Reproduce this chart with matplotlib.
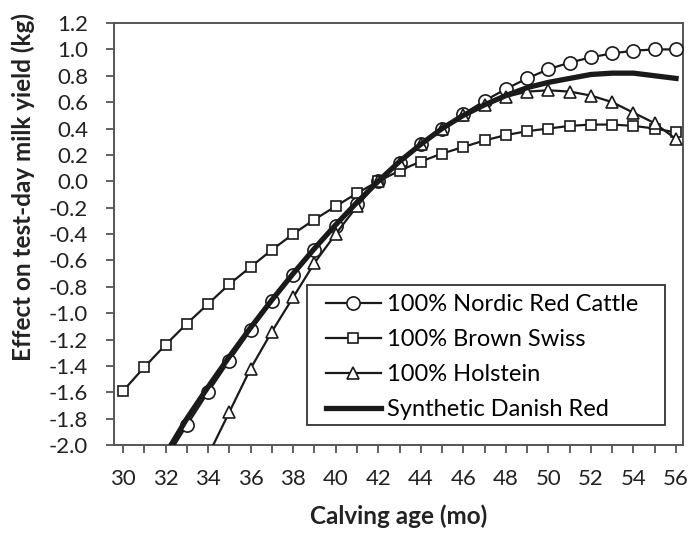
import matplotlib
matplotlib.use("Agg")
import matplotlib.pyplot as plt
from matplotlib.ticker import MultipleLocator, FuncFormatter
from matplotlib.patches import Rectangle

plt.rcParams['font.family'] = ['Lato', 'DejaVu Sans']

age = list(range(30, 57))
nordic_red = [-2.68, -2.39, -2.11, -1.85, -1.60, -1.36, -1.13, -0.91, -0.71, -0.52, -0.34,
              -0.17, 0.00, 0.14, 0.28, 0.40, 0.51, 0.61, 0.70, 0.78, 0.85, 0.90, 0.94,
              0.97, 0.99, 1.00, 1.00]
brown_swiss = [-1.59, -1.41, -1.24, -1.08, -0.93, -0.78, -0.65, -0.52, -0.40, -0.29, -0.19,
               -0.09, 0.00, 0.08, 0.15, 0.21, 0.26, 0.31, 0.35, 0.38, 0.40, 0.42, 0.43,
               0.43, 0.42, 0.40, 0.37]
holstein = [-3.10, -2.75, -2.42, -2.30, -2.08, -1.75, -1.42, -1.14, -0.88, -0.62, -0.40,
            -0.19, 0.00, 0.14, 0.28, 0.40, 0.50, 0.58, 0.64, 0.68, 0.69, 0.68, 0.65,
            0.60, 0.52, 0.44, 0.32]
synthetic = [-2.62, -2.34, -2.07, -1.80, -1.56, -1.33, -1.11, -0.90, -0.70, -0.51, -0.33,
             -0.16, 0.00, 0.15, 0.28, 0.40, 0.50, 0.58, 0.65, 0.71, 0.75, 0.78, 0.81,
             0.82, 0.82, 0.80, 0.78]

fig = plt.figure(figsize=(6.97, 5.33), dpi=100)
ax = fig.add_axes([0.1636, 0.165, 0.8164, 0.7918])

c = '#1a1a1a'
ax.plot(age, nordic_red, color=c, lw=1.6, marker='o', ms=9.5, mfc='white', mec=c, mew=1.2,
        label='100% Nordic Red Cattle', zorder=3)
ax.plot(age, brown_swiss, color=c, lw=1.6, marker='s', ms=7.3, mfc='white', mec=c, mew=1.2,
        label='100% Brown Swiss', zorder=3)
ax.plot(age, holstein, color=c, lw=1.6, marker='^', ms=9, mfc='white', mec=c, mew=1.2,
        label='100% Holstein', zorder=3)
ax.plot(age, synthetic, color=c, lw=3.8, label='Synthetic Danish Red', zorder=4)

ax.set_xlim(29.58, 56.33)
ax.set_ylim(-2.0, 1.2)
ax.xaxis.set_major_locator(MultipleLocator(1))
ax.xaxis.set_major_formatter(FuncFormatter(lambda v, p: f"{int(round(v))}" if int(round(v)) % 2 == 0 else ""))
ax.yaxis.set_major_locator(MultipleLocator(0.2))
ax.yaxis.set_major_formatter(FuncFormatter(lambda v, p: f"{v:.1f}".replace('-0.0', '0.0')))

for s in ax.spines.values():
    s.set_color('#555555')
    s.set_linewidth(1.4)
ax.tick_params(direction='out', length=5.5, width=1.3, color='#555555', labelsize=16,
               labelcolor='#222222')
ax.tick_params(axis='x', pad=12)
ax.tick_params(axis='y', pad=13)

ax.set_xlabel('Calving age (mo)', fontsize=17.5, fontweight='bold', color='#222222', labelpad=11)
ax.set_ylabel('Effect on test-day milk yield (kg)', fontsize=17.5, fontweight='bold', color='#222222')
ax.yaxis.set_label_coords(-0.139, 0.611)

leg = ax.legend(loc='upper left', bbox_to_anchor=(0.372, 0.358), fontsize=17, frameon=False,
                handlelength=2.35, markerscale=1.0, borderpad=0, labelspacing=0.6,
                handletextpad=0.25, borderaxespad=0)
ax.add_patch(Rectangle((0.339, 0.047), 0.629, 0.332, transform=ax.transAxes, fill=False,
                       edgecolor='#333333', lw=1.3, zorder=5))

fig.savefig('out.png', dpi=100)
